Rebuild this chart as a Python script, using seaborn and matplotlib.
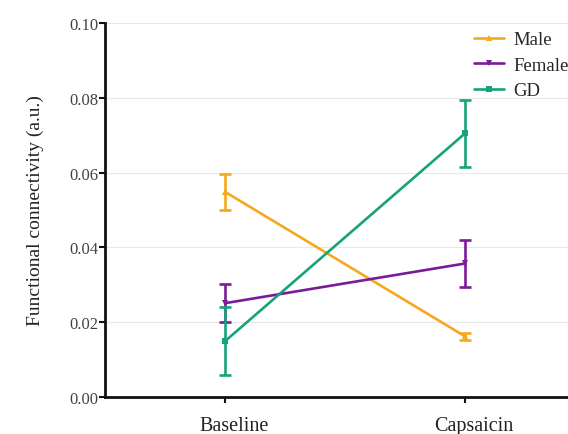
import matplotlib
matplotlib.use("Agg")
import matplotlib.pyplot as plt
import matplotlib.transforms as mtransforms
import seaborn as sns
import pandas as pd

conditions = ["Baseline", "Capsaicin"]
groups = ["Male", "Female", "GD"]
male_mean = [0.0548, 0.0162]
male_err = [0.0048, 0.0009]
female_mean = [0.0251, 0.0357]
female_err = [0.0050, 0.0063]
gd_mean = [0.0150, 0.0705]
gd_err = [0.0090, 0.0090]

colors = {"Male": "#F5A81C", "Female": "#7B1A9A", "GD": "#16A37A"}
markers = {"Male": "^", "Female": "v", "GD": "s"}

rows = []
for g, m, e in [("Male", male_mean, male_err), ("Female", female_mean, female_err), ("GD", gd_mean, gd_err)]:
    for c, v, er in zip(conditions, m, e):
        rows.append({"Condition": c, "Group": g, "FC": v, "err": er})
df = pd.DataFrame(rows)

sns.set_theme(style="white")
plt.rcParams["font.family"] = ["Liberation Serif", "DejaVu Serif"]

fig = plt.figure(figsize=(5.68, 4.35), dpi=100)
ax = fig.add_axes([105/568, 37/435, 480/568, 374/435])

for g in groups:
    sub = df[df["Group"] == g]
    sns.lineplot(data=sub, x="Condition", y="FC", color=colors[g], marker=markers[g],
                 markersize=5, markeredgewidth=0, linewidth=1.9, ax=ax, label=g, sort=False)
    ax.errorbar(range(len(conditions)), sub["FC"], yerr=sub["err"], fmt="none",
                ecolor=colors[g], elinewidth=1.9, capsize=4.5, capthick=1.9)

ax.set_xlim(-0.502, 1.5)
ax.set_ylim(0, 0.10)
ax.set_yticks([0.0, 0.02, 0.04, 0.06, 0.08, 0.10])
ax.set_yticklabels(["0.00", "0.02", "0.04", "0.06", "0.08", "0.10"])
ax.set_xticks([0, 1])
ax.set_xticklabels(conditions)
ax.yaxis.grid(True, color="#e8e8e8", linewidth=0.8)
ax.set_axisbelow(True)
for s in ["top", "right"]:
    ax.spines[s].set_visible(False)
for s in ["left", "bottom"]:
    ax.spines[s].set_color("#111111")
    ax.spines[s].set_linewidth(2.0)
ax.tick_params(axis="y", labelsize=12, length=4, width=1.5, color="#111111", left=True, pad=1, labelcolor="#444444")
ax.tick_params(axis="x", labelsize=14.5, length=4, width=1.5, color="#111111", bottom=True, pad=10, labelcolor="#222222")
offset = mtransforms.ScaledTranslation(9/100, 0, fig.dpi_scale_trans)
for lab in ax.get_xticklabels():
    lab.set_transform(lab.get_transform() + offset)
ax.set_xlabel("")
ax.set_ylabel("Functional connectivity (a.u.)", fontsize=14, color="#222222", labelpad=18)

leg = ax.legend(loc="upper left", bbox_to_anchor=(474/568, 1 - 32/435), bbox_transform=fig.transFigure,
                frameon=False, fontsize=13.5, handlelength=1.6, handletextpad=0.5, labelspacing=0.45,
                borderaxespad=0, borderpad=0)

fig.savefig("out.png", dpi=100)
